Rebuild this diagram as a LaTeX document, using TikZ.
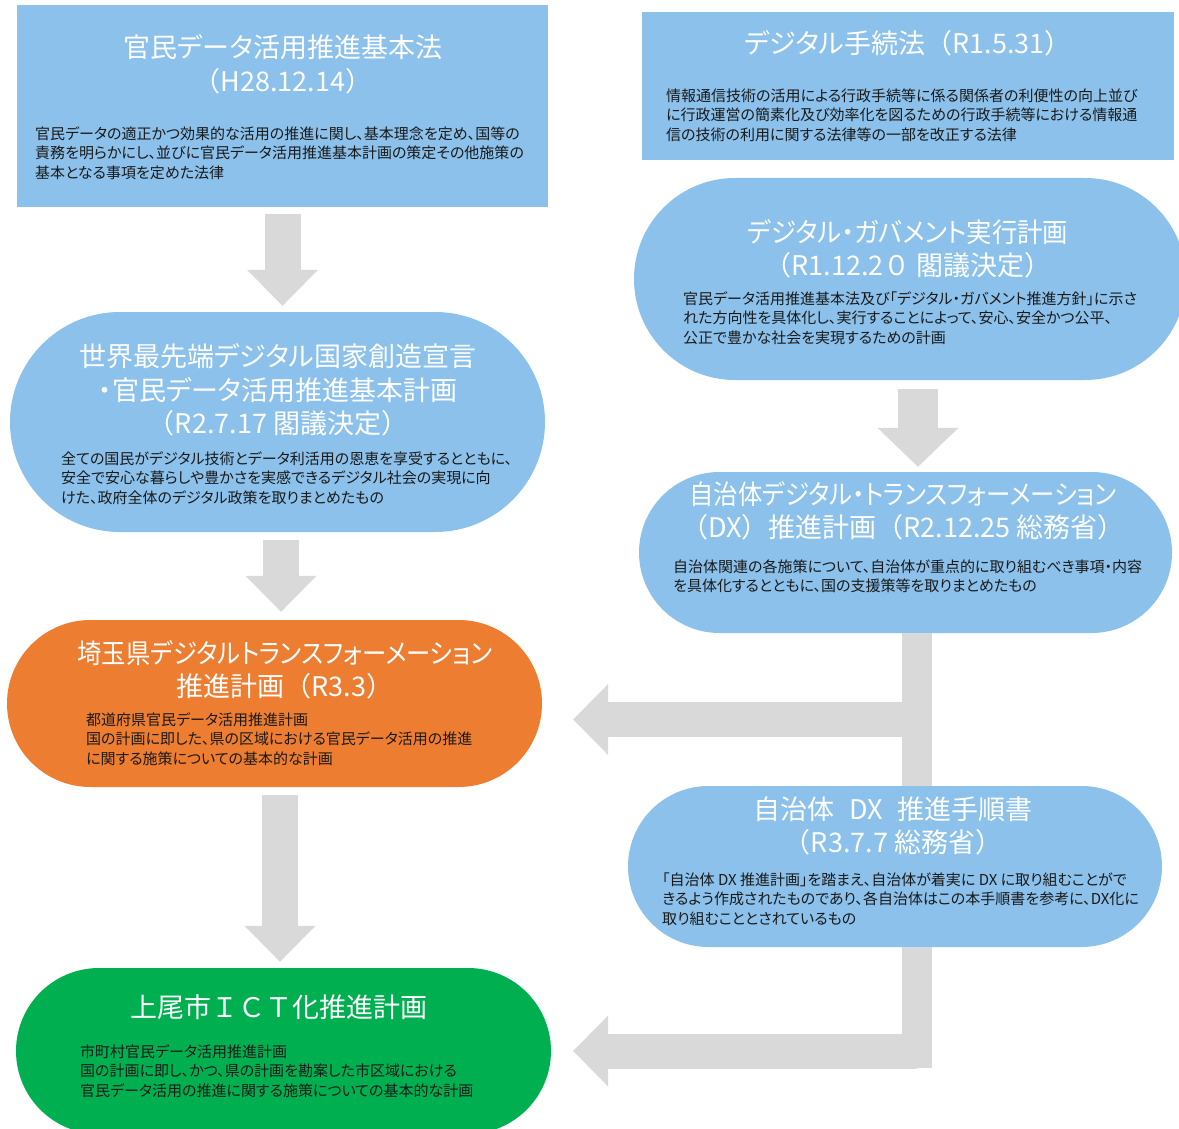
\documentclass[tikz,border=0pt]{standalone}
\usepackage{fontspec}
\usepackage{tikz}
\usetikzlibrary{calc}
\usetikzlibrary{shapes.misc}
\usetikzlibrary{arrows.meta}

\newfontfamily\jpfont{Noto Sans CJK JP}[RawFeature={+palt}]
\newfontfamily\jpwide{Noto Sans CJK JP}
\newcommand\kakko[1]{{\jpwide（}#1{\jpwide）}}
\newcommand\squeeze[2]{{\addfontfeatures{FakeStretch=#1}#2}}
\definecolor{planblue}{HTML}{8BC1EA}
\definecolor{preforange}{HTML}{ED7D31}
\definecolor{citygreen}{HTML}{00B050}
\definecolor{flowgray}{HTML}{D9D9D9}
\definecolor{bodyink}{HTML}{1A1A1A}

\begin{document}
\begin{tikzpicture}[x=1pt,y=-1pt,
    lawbox/.style={fill=planblue, inner sep=0pt},
    pill/.style={rounded rectangle, inner sep=0pt, fill=planblue},
    heading/.style={text=white, align=center, inner sep=0pt,
        font=\jpfont\fontsize{27}{33.5}\selectfont},
    memo/.style={text=bodyink, align=left, anchor=north west, inner sep=0pt,
        font=\jpfont\fontsize{15}{19.5}\selectfont},
    downarrow/.style={line width=36pt, draw=flowgray,
        -{Triangle[width=71pt,length=36pt,line width=0pt]}},
    sidearrow/.style={line width=35pt, draw=flowgray,
        -{Triangle[width=71pt,length=35pt,line width=0pt]}},
    bus/.style={line width=30pt, draw=flowgray}]

    \path[use as bounding box, fill=white] (0,0) rectangle (1179,1129);

    % national laws
    \node[lawbox, minimum width=531pt, minimum height=202pt] (basiclaw) at (282.5,106) {};
    \node[heading] (basiclawtitle) at (283,64.5) {官民データ活用推進基本法\\\kakko{H28.12.14}};
    \node[memo] (basiclawtext) at (35,126.5) {官民データの適正かつ効果的な活用の推進に関し、基本理念を定め、国等の\\責務を明らかにし、並びに官民データ活用推進基本計画の策定その他施策の\\基本となる事項を定めた法律};

    \node[lawbox, minimum width=532pt, minimum height=148pt] (proclaw) at (908,86) {};
    \node[heading] (proclawtitle) at (908,43) {デジタル手続法\kakko{R1.5.31}};
    \node[memo] (proclawtext) at (666,88.5) {情報通信技術の活用による行政手続等に係る関係者の利便性の向上並び\\に行政運営の簡素化及び効率化を図るための行政手続等における情報通\\信の技術の利用に関する法律等の一部を改正する法律};

    % national plans
    \node[pill, minimum width=552pt, minimum height=202pt] (govplan) at (910,279) {};
    \node[heading] (govplantitle) at (908,249) {\squeeze{0.94}{デジタル・ガバメント実行計画}\\\kakko{R1.12.2{\jpwide ０} 閣議決定}};
    \node[memo] (govplantext) at (683,291.5) {官民データ活用推進基本法及び「デジタル・ガバメント推進方針」に示さ\\れた方向性を具体化し、実行することによって、安心、安全かつ公平、\\公正で豊かな社会を実現するための計画};

    \node[pill, minimum width=535pt, minimum height=220pt] (worldplan) at (277.5,422) {};
    \node[heading] (worldplantitle) at (278,390) {世界最先端デジタル国家創造宣言\\・官民データ活用推進基本計画\\\kakko{R2.7.17 閣議決定}};
    \node[memo] (worldplantext) at (61,451.5) {全ての国民がデジタル技術とデータ利活用の恩恵を享受するとともに、\\安全で安心な暮らしや豊かさを実感できるデジタル社会の実現に向\\けた、政府全体のデジタル政策を取りまとめたもの};

    \node[pill, minimum width=533pt, minimum height=161pt] (dxplan) at (905.5,552.5) {};
    \node[heading] (dxplantitle) at (903,511) {\squeeze{0.9}{自治体デジタル・トランスフォーメーション}\\\kakko{DX}推進計画\kakko{R2.12.25 総務省}};
    \node[memo] (dxplantext) at (673,559.5) {自治体関連の各施策について、自治体が重点的に取り組むべき事項・内容\\を具体化するとともに、国の支援策等を取りまとめたもの};

    \node[pill, minimum width=534pt, minimum height=161pt] (dxguide) at (895,866.5) {};
    \node[heading] (dxguidetitle) at (893,826) {自治体\hspace{.55em}DX\hspace{.55em}推進手順書\\\kakko{R3.7.7 総務省}};
    \node[memo] (dxguidetext) at (662,872.5) {「自治体 DX 推進計画」を踏まえ、自治体が着実に DX に取り組むことがで\\きるよう作成されたものであり、各自治体はこの本手順書を参考に、DX化に\\取り組むこととされているもの};

    % local plans
    \node[pill, fill=preforange, minimum width=535pt, minimum height=167pt] (saitama) at (274.5,703.5) {};
    \node[heading] (saitamatitle) at (285,670) {\squeeze{0.9}{埼玉県デジタルトランスフォーメーション}\\推進計画\kakko{R3.3}};
    \node[memo] (saitamatext) at (86,712.5) {都道府県官民データ活用推進計画\\国の計画に即した、県の区域における官民データ活用の推進\\に関する施策についての基本的な計画};

    \node[pill, fill=citygreen, minimum width=535pt, minimum height=166pt] (ageo) at (283.5,1051) {};
    \node[heading, font=\jpwide\fontsize{27}{33.5}\selectfont] (ageotitle) at (279,1007) {上尾市ＩＣＴ化推進計画};
    \node[memo] (ageotext) at (80,1044.5) {市町村官民データ活用推進計画\\国の計画に即し、かつ、県の計画を勘案した市区域における\\官民データ活用の推進に関する施策についての基本的な計画};

    % flow
    \draw[downarrow] ($(basiclaw.south)+(0,7)$) -- ($(basiclaw.south |- worldplan.north)+(0,-6)$);
    \draw[downarrow, line width=40pt, -{Triangle[width=81pt,length=39pt,line width=0pt]}]
        ($(govplan.south)+(8,9)$) -- ($(govplan.south |- dxplan.north)+(8,-5)$);
    \draw[downarrow] ($(worldplan.south)+(3.5,8)$) -- ($(worldplan.south |- saitama.north)+(3.5,-8)$);
    \draw[downarrow] ($(saitama.south)+(5.5,8)$) -- ($(saitama.south |- ageo.north)+(5.5,-6)$);

    \coordinate (tee) at (917,719.5);
    \coordinate (elbow) at (917,1051);
    \draw[bus] (dxplan.south -| tee) -- (dxguide.north -| tee);
    \draw[sidearrow] (tee) -- ($(saitama.east |- tee)+(31,0)$);
    \draw[bus] (dxguide.south -| elbow) -- ($(elbow)+(0,17)$);
    \draw[sidearrow] (elbow) -- ($(ageo.east |- elbow)+(22,0)$);

\end{tikzpicture}
\end{document}
